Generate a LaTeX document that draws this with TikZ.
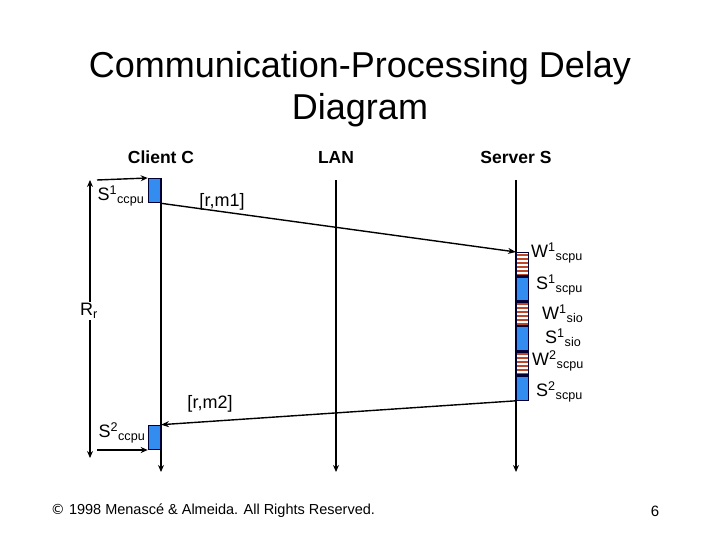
\documentclass[tikz,border=0pt]{standalone}
\usepackage{fontspec}
\setmainfont{Liberation Sans}
\usetikzlibrary{arrows.meta}
\definecolor{cpublue}{RGB}{51,140,240}
\definecolor{waitred}{RGB}{190,70,40}
\begin{document}
\begin{tikzpicture}[x=1pt,y=-1pt,
  tl/.style={line width=1.5pt,-{Stealth[length=7pt,width=6pt]}},
  msg/.style={line width=1.4pt,-{Stealth[length=8pt,width=6pt]}},
  cpu/.style={draw=black!80!blue,line width=1.3pt,fill=cpublue,minimum width=12pt,minimum height=24pt,inner sep=0pt},
  wait/.style={draw=black!80!blue,line width=1.3pt,minimum width=12pt,minimum height=23pt,inner sep=0pt,
     path picture={\foreach \k in {0,...,5}{\fill[waitred] ([yshift=-\k*4pt-1pt]path picture bounding box.north west) rectangle ++(12pt,-2pt);}}},
  hdr/.style={font=\bfseries\fontsize{17.5}{21}\selectfont},
  lbl/.style={font=\fontsize{18}{21}\selectfont,inner sep=1pt}]
\useasboundingbox (0,0) rectangle (720,540);
\node[font=\fontsize{36}{42}\selectfont,align=center] (title) at (360,89) {Communication-Processing Delay\\Diagram};
\node[hdr] (hc) at (161,157) {Client C};
\node[hdr] (hl) at (336,157) {LAN};
\node[hdr] (hs) at (516,157) {Server S};
\coordinate (ct) at (161,178); \coordinate (cb) at (161,472);
\coordinate (lt) at (336,180); \coordinate (lb) at (336,472);
\coordinate (st) at (516,180); \coordinate (sb) at (516,472);
\draw[tl] (ct) -- (cb);
\draw[tl] (lt) -- (lb);
\draw[tl] (st) -- (sb);
\node[cpu,anchor=north east] (c1) at (161,178) {};
\node[cpu,anchor=south east] (c2) at (161,450) {};
\node[wait,anchor=north west] (w1) at (516,252) {};
\node[cpu,anchor=north,minimum height=24pt] (s1) at (w1.south) {};
\node[wait,anchor=north] (w2) at (s1.south) {};
\node[cpu,anchor=north] (s2) at (w2.south) {};
\node[wait,anchor=north] (w3) at (s2.south) {};
\node[cpu,anchor=north] (s3) at (w3.south) {};
\draw[msg] (c1.south east) -- (w1.north west);
\draw[msg] (s3.south west) -- (c2.north east);
\node[lbl] (m1) at (222,202) {[r,m1]};
\node[lbl] (m2) at (210,404) {[r,m2]};
\coordinate (rt) at (90,180); \coordinate (rb) at (90,458);
\draw[line width=1.4pt,{Stealth[length=7pt,width=6pt]}-{Stealth[length=7pt,width=6pt]}] (rt) -- (rb);
\node[lbl,fill=white,inner sep=2pt] (rr) at (89,311) {R\textsubscript{r}};
\coordinate (a1) at (97,180);
\draw[line width=1.4pt,-{Stealth[length=7pt,width=6pt]}] (a1) -- (c1.north west);
\coordinate (a2) at (97,450);
\draw[line width=1.4pt,-{Stealth[length=7pt,width=6pt]}] (a2) -- (c2.south west);
\node[lbl] (l1) at (121,196) {S\textsuperscript{1}\textsubscript{ccpu}};
\node[lbl] (l2) at (122,433) {S\textsuperscript{2}\textsubscript{ccpu}};
\node[lbl,anchor=west] (lw1) at (530,253) {W\textsuperscript{1}\textsubscript{scpu}};
\node[lbl,anchor=west] (ls1) at (535,285) {S\textsuperscript{1}\textsubscript{scpu}};
\node[lbl,anchor=west] (lw2) at (541,314) {W\textsuperscript{1}\textsubscript{sio}};
\node[lbl,anchor=west] (ls2) at (544,338) {S\textsuperscript{1}\textsubscript{sio}};
\node[lbl,anchor=west] (lw3) at (531,361) {W\textsuperscript{2}\textsubscript{scpu}};
\node[lbl,anchor=west] (ls3) at (535,392) {S\textsuperscript{2}\textsubscript{scpu}};
\node (ft) at (213,511) {\fontspec{DejaVu Sans}\fontsize{14}{16}\selectfont ©\fontspec{Liberation Sans}\fontsize{14.5}{16}\selectfont\ 1998 Menascé \& Almeida. All Rights Reserved.};
\node[font=\fontsize{15}{17}\selectfont] (pg) at (655,511) {6};
\end{tikzpicture}
\end{document}
